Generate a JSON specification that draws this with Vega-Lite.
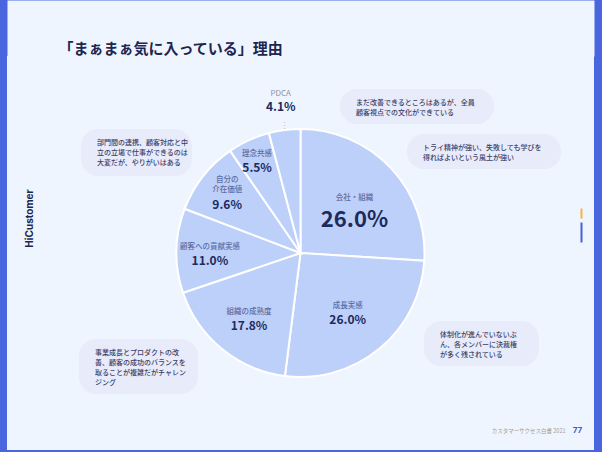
{
  "$schema": "https://vega.github.io/schema/vega-lite/v6.json",
  "width": 587,
  "height": 394,
  "autosize": {"type": "none"},
  "padding": {"left": 7, "right": 8, "top": 56, "bottom": 2},
  "background": "#4a66df",
  "view": {"fill": "#eff5fe", "stroke": null},
  "config": {
    "view": {"fill": "#eff5fe", "stroke": null},
    "font": "Noto Sans CJK JP"
  },
  "datasets": {
    "reasons": [
      {"rank": 1, "category": "会社・組織", "share": 0.260},
      {"rank": 2, "category": "成長実感", "share": 0.260},
      {"rank": 3, "category": "組織の成熟度", "share": 0.178},
      {"rank": 4, "category": "顧客への貢献実感", "share": 0.110},
      {"rank": 5, "category": "自分の\n介在価値", "share": 0.096},
      {"rank": 6, "category": "理念共感", "share": 0.055},
      {"rank": 7, "category": "PDCA", "share": 0.041}
    ],
    "comments": [
      {"comment": "まだ改善できるところはあるが、全員\n顧客視点での文化ができている", "x": 340, "x2": 494, "y": 89, "y2": 124},
      {"comment": "トライ精神が強い、失敗しても学びを\n得ればよいという風土が強い", "x": 407, "x2": 561, "y": 134, "y2": 169},
      {"comment": "部門間の連携、顧客対応と中\n立の立場で仕事ができるのは\n大変だが、やりがいはある", "x": 81, "x2": 192, "y": 129, "y2": 176},
      {"comment": "体制化が進んでいないぶ\nん、各メンバーに決裁権\nが多く残されている", "x": 424, "x2": 539, "y": 321, "y2": 366},
      {"comment": "事業成長とプロダクトの改\n善、顧客の成功のバランスを\n取ることが複雑だがチャレン\nジング", "x": 79, "x2": 198, "y": 339, "y2": 394}
    ]
  },
  "resolve": {"axis": {"x": "independent", "y": "independent"}},
  "layer": [
    {
      "data": {"name": "comments"},
      "mark": {"type": "rect", "cornerRadius": 17, "fill": "#e8ebfa"},
      "encoding": {
        "x": {
          "field": "x", "type": "quantitative",
          "scale": {"domain": [7, 594], "nice": false, "zero": false},
          "axis": {
            "orient": "top", "offset": 28, "domainColor": "#eff5fe", "domainWidth": 56,
            "ticks": false, "labels": false, "grid": false,
            "title": "「まぁまぁ気に入っている」理由",
            "titleX": 51, "titleY": 20, "titleAlign": "left", "titleBaseline": "middle", "titleAngle": 0,
            "titleFontSize": 15, "titleFontWeight": "bold", "titleColor": "#1c2650", "titleFont": "Noto Sans CJK JP"
          }
        },
        "x2": {"field": "x2"},
        "y": {
          "field": "y", "type": "quantitative",
          "scale": {"domain": [56, 450], "reverse": true, "nice": false, "zero": false},
          "axis": {
            "orient": "left", "domain": false, "ticks": false, "labels": false, "grid": false,
            "title": "HiCustomer",
            "titleX": 22, "titleY": 162, "titleAngle": -90, "titleAlign": "center", "titleBaseline": "middle",
            "titleFontSize": 10, "titleFontWeight": "bold", "titleColor": "#1c2650", "titleFont": "Inter"
          }
        },
        "y2": {"field": "y2"}
      }
    },
    {
      "data": {"name": "comments"},
      "mark": {"type": "text", "align": "left", "baseline": "top", "dx": 16, "dy": 10, "fontSize": 7, "lineHeight": 10, "lineBreak": "\n", "color": "#3b4066", "fontWeight": 500},
      "encoding": {
        "x": {
          "field": "x", "type": "quantitative",
          "axis": {
            "orient": "bottom", "domain": false, "ticks": false, "labels": false, "grid": false,
            "title": "カスタマーサクセス白書 2021",
            "titleX": 558, "titleY": -20, "titleAlign": "right", "titleBaseline": "middle", "titleAngle": 0,
            "titleFontSize": 5.5, "titleFontWeight": "normal", "titleColor": "#a59c94"
          }
        },
        "y": {
          "field": "y", "type": "quantitative",
          "axis": {
            "orient": "right", "offset": -14, "domain": false, "labels": false, "grid": false,
            "ticks": true, "values": [213, 232], "tickSize": 2,
            "tickWidth": {"condition": {"test": "datum.value < 220", "value": 10}, "value": 20},
            "tickColor": {"condition": {"test": "datum.value < 220", "value": "#f4b43f"}, "value": "#4361d8"},
            "title": "77",
            "titleX": -3, "titleY": 374, "titleAngle": 0, "titleAlign": "center", "titleBaseline": "middle",
            "titleFontSize": 8, "titleFontWeight": "bold", "titleColor": "#3d5bd6", "titleFont": "Inter"
          }
        },
        "text": {"field": "comment"}
      }
    },
    {
      "data": {"name": "reasons"},
      "mark": {"type": "arc", "radius": 124, "fill": "#bdd0fa", "stroke": "#ffffff", "strokeWidth": 2},
      "encoding": {
        "theta": {"field": "share", "type": "quantitative", "stack": true},
        "order": {"field": "rank", "type": "quantitative"},
        "detail": {"field": "category", "type": "nominal"}
      }
    },
    {
      "data": {"name": "reasons"},
      "mark": {"type": "text", "baseline": "bottom", "dy": 0, "fontSize": 7.5, "color": "#5e6d9f", "fontWeight": 500},
      "encoding": {
        "theta": {"field": "share", "type": "quantitative", "stack": true},
        "order": {"field": "rank", "type": "quantitative"},
        "detail": {"field": "category", "type": "nominal"},
        "radius": {"field": "share", "type": "quantitative", "scale": {"type": "log", "domain": [0.055, 0.26], "range": [104, 74]}},
        "text": {"field": "category"},
        "opacity": {"condition": {"test": "datum.category === 'PDCA' || datum.rank === 5", "value": 0}, "value": 1}
      }
    },
    {
      "data": {"name": "reasons"},
      "mark": {"type": "text", "baseline": "bottom", "dy": -11, "fontSize": 7.5, "lineBreak": "\n", "lineHeight": 10, "color": "#5e6d9f", "fontWeight": 500},
      "encoding": {
        "theta": {"field": "share", "type": "quantitative", "stack": true},
        "order": {"field": "rank", "type": "quantitative"},
        "detail": {"field": "category", "type": "nominal"},
        "radius": {"field": "share", "type": "quantitative"},
        "text": {"field": "category"},
        "opacity": {"condition": {"test": "datum.rank === 5", "value": 1}, "value": 0}
      }
    },
    {
      "data": {"name": "reasons"},
      "mark": {"type": "text", "baseline": "top", "dy": 5, "fontSize": 12, "fontWeight": "bold", "color": "#1d2a5c"},
      "encoding": {
        "theta": {"field": "share", "type": "quantitative", "stack": true},
        "order": {"field": "rank", "type": "quantitative"},
        "detail": {"field": "category", "type": "nominal"},
        "radius": {"field": "share", "type": "quantitative"},
        "text": {"field": "share", "type": "quantitative", "format": ".1%"},
        "opacity": {"condition": {"test": "datum.rank === 1 || datum.category === 'PDCA'", "value": 0}, "value": 1}
      }
    },
    {
      "data": {"name": "reasons"},
      "mark": {"type": "text", "baseline": "top", "dy": 8, "fontSize": 22, "fontWeight": "bold", "color": "#1d2a5c"},
      "encoding": {
        "theta": {"field": "share", "type": "quantitative", "stack": true},
        "order": {"field": "rank", "type": "quantitative"},
        "detail": {"field": "category", "type": "nominal"},
        "radius": {"field": "share", "type": "quantitative"},
        "text": {"field": "share", "type": "quantitative", "format": ".1%"},
        "opacity": {"condition": {"test": "datum.rank === 1", "value": 1}, "value": 0}
      }
    },
    {
      "data": {"name": "reasons"},
      "mark": {"type": "text", "radius": 154, "baseline": "bottom", "dy": -2, "fontSize": 8, "color": "#8b90a8"},
      "encoding": {
        "theta": {"field": "share", "type": "quantitative", "stack": true},
        "order": {"field": "rank", "type": "quantitative"},
        "detail": {"field": "category", "type": "nominal"},
        "text": {"field": "category"},
        "opacity": {"condition": {"test": "datum.category === 'PDCA'", "value": 1}, "value": 0}
      }
    },
    {
      "data": {"name": "reasons"},
      "mark": {"type": "text", "radius": 154, "baseline": "top", "dy": 2, "fontSize": 12, "fontWeight": "bold", "color": "#1d2a5c"},
      "encoding": {
        "theta": {"field": "share", "type": "quantitative", "stack": true},
        "order": {"field": "rank", "type": "quantitative"},
        "detail": {"field": "category", "type": "nominal"},
        "text": {"field": "share", "type": "quantitative", "format": ".1%"},
        "opacity": {"condition": {"test": "datum.category === 'PDCA'", "value": 1}, "value": 0}
      }
    },
    {
      "data": {"name": "reasons"},
      "mark": {"type": "text", "radius": 128, "baseline": "middle", "fontSize": 9, "color": "#c8bca8"},
      "encoding": {
        "theta": {"field": "share", "type": "quantitative", "stack": true},
        "order": {"field": "rank", "type": "quantitative"},
        "detail": {"field": "category", "type": "nominal"},
        "text": {"value": "⋮"},
        "opacity": {"condition": {"test": "datum.category === 'PDCA'", "value": 1}, "value": 0}
      }
    }
  ]
}
